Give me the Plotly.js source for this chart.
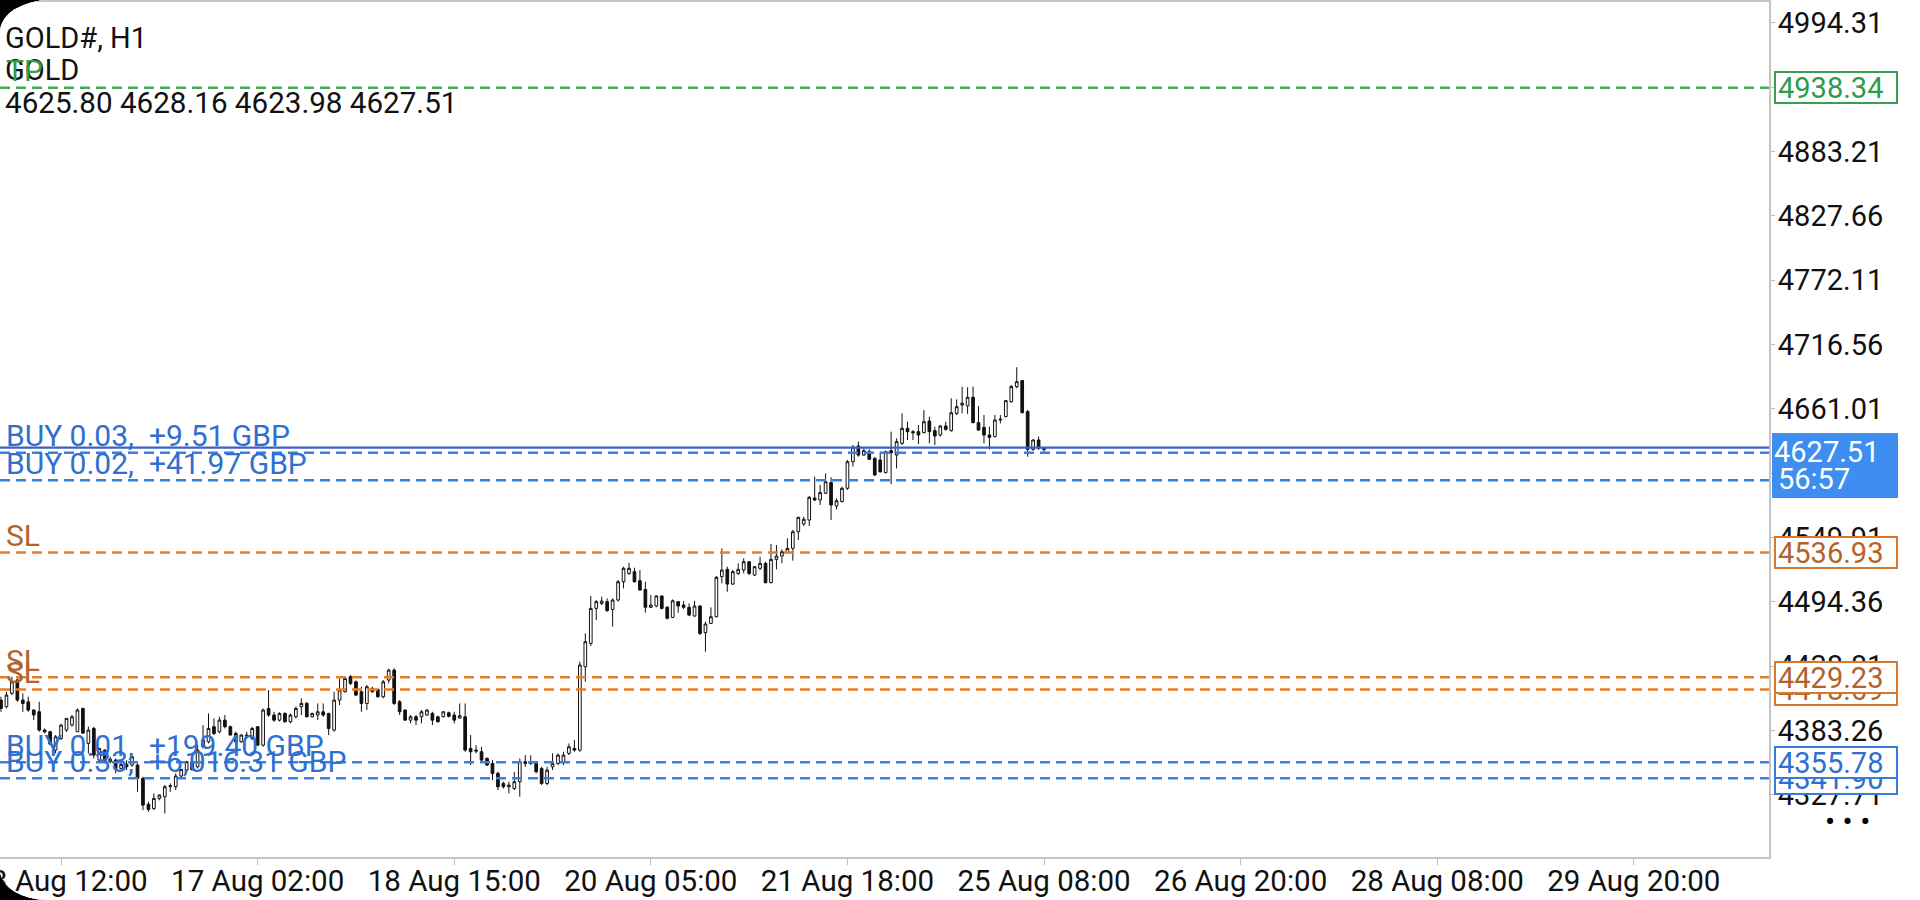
<!DOCTYPE html>
<html><head><meta charset="utf-8">
<script src="https://cdn.plot.ly/plotly-3.0.1.min.js"></script>
<style>
html,body{margin:0;padding:0;background:#000;width:1920px;height:900px;overflow:hidden}
#chart{width:1920px;height:900px;background:#fff;border-radius:50px 0 0 48px / 32px 0 0 30px;overflow:hidden}
</style></head><body><div id="chart"></div>
<script>
// ---- data (GOLD#, H1) ----
const symbolName = 'GOLD#, H1';
const symbolDesc = 'GOLD';
const timerText = '56:57';

const open = [
4409.5,4403.8,4415.3,4426.8,4409.5,4408.0,4400.9,4399.4,4383.6,4382.2,
4366.3,4376.4,4383.6,4387.9,4382.2,4402.3,4372.1,4385.0,4357.7,4366.3,
4356.3,4357.7,4350.5,4354.0,4353.4,4353.4,4341.9,4319.6,4315.9,4324.6,
4326.0,4334.7,4334.7,4343.9,4349.0,4356.3,4351.9,4369.2,4373.5,4386.5,
4382.2,4392.2,4386.5,4380.7,4373.5,4379.3,4376.4,4386.5,4370.6,4402.3,
4396.6,4392.2,4398.0,4390.8,4395.1,4403.8,4406.6,4395.1,4396.6,4399.4,
4398.0,4383.6,4409.5,4416.7,4429.7,4425.3,4416.7,4406.6,4419.6,4418.7,
4412.4,4426.8,4435.4,4408.1,4400.9,4392.2,4395.1,4395.1,4396.6,4398.0,
4395.1,4395.1,4398.5,4396.6,4394.0,4395.1,4367.8,4366.3,4364.9,4359.1,
4354.8,4346.2,4337.5,4334.7,4333.2,4339.0,4356.3,4354.8,4356.3,4350.5,
4337.5,4351.9,4354.8,4356.3,4363.5,4367.8,4366.3,4438.3,4458.5,4488.7,
4493.0,4494.5,4487.8,4495.9,4511.7,4518.9,4520.4,4512.6,4505.1,4489.6,
4490.7,4499.4,4489.6,4480.9,4494.5,4491.6,4489.6,4482.1,4490.7,4467.7,
4475.7,4481.5,4516.1,4522.4,4509.7,4518.9,4521.8,4529.0,4517.5,4523.3,
4527.6,4510.9,4531.0,4533.9,4536.8,4540.5,4554.9,4561.6,4565.0,4584.0,
4582.3,4588.1,4597.3,4577.1,4581.0,4592.4,4615.4,4628.9,4621.1,4624.0,
4618.3,4616.8,4605.9,4624.9,4621.1,4631.2,4644.2,4641.3,4641.3,4640.4,
4650.5,4642.2,4638.4,4646.2,4642.2,4657.1,4664.3,4663.5,4671.0,4649.1,
4645.0,4638.4,4637.0,4651.4,4654.3,4667.2,4680.2,4685.4,4658.6,4626.0,
4634.1,4625.80];
const high = [
4412.4,4416.7,4429.7,4428.2,4415.3,4412.4,4401.5,4408.1,4385.0,4383.0,
4379.3,4389.0,4394.0,4396.6,4402.3,4403.0,4386.5,4386.5,4368.0,4367.0,
4360.6,4359.1,4356.3,4357.7,4361.0,4354.8,4343.3,4321.7,4328.9,4328.0,
4336.1,4337.5,4346.2,4350.0,4357.0,4357.5,4370.6,4387.9,4398.0,4393.7,
4395.1,4396.6,4387.5,4382.2,4380.0,4382.2,4386.5,4387.0,4402.3,4418.2,
4399.4,4399.0,4399.0,4398.0,4403.8,4411.0,4408.0,4398.5,4406.6,4406.6,
4398.5,4416.7,4428.2,4430.0,4431.1,4426.5,4421.0,4422.5,4421.0,4419.5,
4426.8,4436.5,4436.9,4409.5,4401.5,4396.6,4396.6,4400.9,4401.5,4399.4,
4396.0,4400.0,4399.5,4399.4,4406.6,4406.6,4379.3,4370.6,4369.2,4360.0,
4357.7,4347.6,4339.0,4339.0,4347.6,4359.1,4362.0,4362.0,4356.5,4351.9,
4351.9,4363.5,4363.5,4364.9,4372.1,4375.0,4442.6,4467.1,4499.4,4495.9,
4498.8,4497.3,4497.3,4513.2,4524.7,4528.1,4523.8,4521.8,4511.7,4500.2,
4500.2,4499.8,4490.7,4496.5,4495.0,4495.0,4493.0,4495.3,4491.6,4477.2,
4489.6,4516.6,4540.5,4524.7,4521.8,4527.6,4531.9,4529.5,4525.2,4533.3,
4529.0,4544.3,4543.4,4539.7,4549.2,4556.4,4567.9,4567.9,4585.8,4602.5,
4595.3,4605.3,4601.9,4583.7,4593.8,4616.8,4629.8,4632.7,4626.9,4626.0,
4619.1,4624.0,4624.9,4641.3,4635.5,4657.1,4649.9,4642.7,4647.1,4660.0,
4654.3,4645.6,4647.1,4649.9,4670.1,4669.2,4680.2,4679.6,4680.2,4663.5,
4655.7,4645.6,4655.7,4655.7,4668.7,4681.6,4696.9,4685.9,4660.0,4634.7,
4637.0,4628.16];
const low = [
4399.4,4402.3,4413.8,4408.1,4399.4,4399.4,4392.2,4382.2,4380.7,4370.6,
4363.5,4375.0,4382.0,4386.5,4382.2,4380.2,4363.5,4359.1,4356.0,4355.0,
4354.8,4346.2,4350.0,4349.0,4352.0,4330.3,4314.5,4313.1,4314.5,4323.0,
4311.6,4330.3,4331.8,4343.0,4348.0,4348.5,4350.5,4367.8,4372.1,4379.3,
4380.7,4385.0,4379.0,4372.1,4372.5,4376.4,4375.0,4370.0,4369.2,4395.1,
4390.8,4391.0,4390.0,4389.4,4393.7,4396.6,4394.5,4394.5,4392.2,4395.1,
4379.3,4382.2,4405.2,4416.0,4422.5,4413.0,4399.4,4400.9,4416.0,4411.5,
4411.0,4423.9,4405.2,4396.6,4392.0,4389.4,4387.9,4389.4,4396.0,4387.9,
4390.0,4394.5,4394.5,4389.4,4393.5,4364.9,4353.4,4363.5,4356.3,4352.5,
4340.4,4331.8,4333.2,4328.9,4331.8,4326.0,4351.9,4353.4,4346.2,4336.1,
4336.0,4349.1,4353.4,4353.4,4362.0,4364.9,4364.9,4425.4,4456.2,4478.6,
4491.6,4485.8,4472.9,4494.5,4506.0,4517.5,4511.0,4504.0,4485.0,4489.0,
4489.6,4487.8,4479.2,4480.4,4485.0,4487.8,4482.1,4481.5,4465.7,4451.3,
4475.2,4480.9,4510.3,4503.1,4508.9,4517.5,4518.9,4517.5,4516.6,4521.8,
4510.3,4510.3,4522.4,4527.6,4536.2,4529.9,4547.8,4559.8,4559.8,4581.4,
4578.0,4587.5,4565.0,4574.2,4580.0,4591.0,4611.1,4619.7,4620.3,4616.8,
4603.0,4605.9,4605.3,4596.1,4609.6,4629.8,4634.1,4634.1,4630.6,4639.9,
4631.2,4629.8,4637.0,4642.2,4641.3,4655.7,4657.1,4656.6,4648.5,4642.2,
4631.2,4626.0,4636.4,4648.5,4653.7,4666.3,4678.7,4657.1,4619.7,4624.9,
4625.5,4623.98];
const close = [
4402.3,4413.8,4425.3,4409.5,4406.6,4400.9,4396.6,4383.6,4382.2,4371.5,
4377.8,4387.9,4393.7,4395.1,4400.9,4381.0,4383.6,4362.0,4367.8,4356.3,
4358.5,4350.5,4354.0,4352.0,4360.6,4341.9,4318.8,4315.1,4324.6,4327.5,
4334.7,4335.5,4343.9,4349.7,4356.3,4349.5,4366.3,4375.0,4385.0,4380.7,
4392.2,4386.5,4379.3,4373.5,4379.3,4378.0,4385.0,4370.6,4400.9,4396.6,
4392.2,4398.0,4390.8,4396.6,4402.3,4406.6,4395.1,4398.0,4399.4,4396.6,
4385.0,4409.5,4418.2,4428.2,4423.9,4413.8,4406.6,4421.0,4416.7,4412.4,
4425.3,4435.4,4406.6,4399.4,4392.2,4395.1,4392.2,4399.4,4400.9,4392.2,
4390.8,4399.4,4395.5,4392.2,4396.0,4366.3,4364.9,4365.5,4357.7,4353.4,
4346.2,4334.7,4334.7,4336.1,4339.0,4356.3,4354.8,4356.3,4347.6,4337.5,
4349.0,4354.8,4362.0,4362.0,4369.2,4366.3,4439.8,4459.9,4488.7,4494.5,
4495.0,4486.7,4495.9,4511.7,4523.3,4523.3,4511.7,4504.5,4489.6,4491.6,
4499.4,4488.7,4480.1,4495.3,4490.7,4489.6,4482.9,4490.7,4467.1,4475.2,
4481.5,4515.5,4521.8,4509.7,4520.4,4522.4,4529.0,4518.9,4524.7,4527.6,
4510.9,4531.0,4533.9,4537.6,4540.5,4554.9,4567.3,4565.6,4584.6,4582.3,
4588.7,4598.1,4578.0,4581.7,4592.4,4615.4,4627.8,4621.1,4624.9,4617.4,
4603.9,4606.7,4624.0,4623.2,4632.7,4644.2,4641.3,4640.4,4638.4,4649.9,
4641.3,4637.6,4646.2,4643.3,4657.7,4662.9,4665.8,4671.0,4649.1,4642.7,
4638.4,4636.4,4651.4,4652.0,4668.1,4680.2,4684.5,4657.7,4626.0,4634.1,
4626.9,4627.51];

// x axis: tick bar positions and labels
const xTickBars = [11, 47, 83, 119, 155, 191, 227, 263, 299];
const xTickText = ['13 Aug 12:00','17 Aug 02:00','18 Aug 15:00','20 Aug 05:00','21 Aug 18:00','25 Aug 08:00','26 Aug 20:00','28 Aug 08:00','29 Aug 20:00'];
// y axis ticks
const yTickText = ['4327.71','4383.26','4438.81','4494.36','4549.91','4605.46','4661.01','4716.56','4772.11','4827.66','4883.21','4938.76','4994.31'];

// trade levels
const levelText  = ['TP','BUY 0.03,  +9.51 GBP','BUY 0.02,  +41.97 GBP','SL','SL','SL','BUY 0.01,  +199.40 GBP','BUY 0.33,  +6,016.31 GBP'];
const levelPrice = [4938.34, 4623.20, 4599.30, 4536.93, 4429.23, 4418.69, 4355.78, 4341.90];
const levelKind  = ['tp','buy','buy','sl','sl','sl','buy','buy'];
const levelTag   = [true, false, false, true, true, true, true, true];

// ---- styles ----
const F = 'Roboto, "Noto Sans", "DejaVu Sans", sans-serif';
const FS = 29;
const lineCol = {tp:'#3fae55', buy:'#3a7ee0', sl:'#e2802e'};
const textCol = {tp:'#2f9a48', buy:'#2f6fd2', sl:'#b4622c'};
const tagCol  = {tp:'#3a9f50', buy:'#3a7ad8', sl:'#d8782e'};
const bidPrice = close[close.length - 1];

const bars = open.map((_, i) => i);
const trace = {
  type:'candlestick', x:bars, open:open, high:high, low:low, close:close,
  increasing:{line:{color:'#111', width:1}, fillcolor:'#ffffff'},
  decreasing:{line:{color:'#111', width:1}, fillcolor:'#111111'},
  whiskerwidth:0, hoverinfo:'skip'
};

const shapes = [];
const annotations = [];

// header
[symbolName, symbolDesc, [open, high, low, close].map(a => a[a.length-1].toFixed(2)).join(' ')].forEach((t, k) => {
  annotations.push({xref:'paper', yref:'paper', x:0, y:1, xanchor:'left', yanchor:'middle',
    xshift:3, yshift:[-36,-68,-101][k], text:t, showarrow:false,
    font:{family:F, size:[29, 29, 29.6][k], color:'#111'}});
});

levelPrice.forEach((p, k) => {
  const kd = levelKind[k];
  shapes.push({type:'line', xref:'paper', x0:0, x1:1, yref:'y', y0:p, y1:p, layer:'above',
    line:{color:lineCol[kd], width:2.5, dash:'10px,6px'}});
  annotations.push({xref:'paper', x:0, xanchor:'left', xshift:4, yref:'y', y:p, yanchor:'middle', yshift:17,
    text:levelText[k], showarrow:false, font:{family:F, size:30, color:textCol[kd]}});
});
// bid line
shapes.push({type:'line', xref:'paper', x0:0, x1:1, yref:'y', y0:bidPrice, y1:bidPrice, layer:'above',
  line:{color:'#3d5fc6', width:2.2}});

// right price tags (ascending price so that lower ones are covered)
levelPrice.map((p, k) => k).filter(k => levelTag[k])
  .sort((a, b) => levelPrice[a] - levelPrice[b])
  .forEach(k => {
    const c = tagCol[levelKind[k]];
    annotations.push({xref:'paper', x:1, xanchor:'left', xshift:5, yref:'y', y:levelPrice[k], yanchor:'middle',
      text:levelPrice[k].toFixed(2), showarrow:false, bgcolor:'#ffffff', bordercolor:c, borderwidth:2, borderpad:2,
      width:116, height:25, align:'left', font:{family:F, size:FS, color:textCol[levelKind[k]]}});
  });
// bid tag
annotations.push({xref:'paper', x:1, xanchor:'left', xshift:3, yref:'y', y:bidPrice, yanchor:'top', yshift:15,
  text:bidPrice.toFixed(2), showarrow:false, bgcolor:'#3d8ef0', bordercolor:'#3d8ef0', borderwidth:1, borderpad:1,
  width:122, height:61, align:'left', valign:'top', font:{family:F, size:FS, color:'#ffffff'}});
annotations.push({xref:'paper', x:1, xanchor:'left', xshift:7, yref:'y', y:bidPrice, yanchor:'middle', yshift:-31,
  text:timerText, showarrow:false, font:{family:F, size:FS, color:'#ffffff'}});
// menu dots
annotations.push({xref:'paper', x:1, xanchor:'center', xshift:78, yref:'paper', y:0, yanchor:'middle', yshift:36,
  text:'• • •', showarrow:false, font:{family:F, size:30, color:'#000'}});

const layout = {
  width:1920, height:900, margin:{l:0, r:151, t:2, b:43},
  paper_bgcolor:'#ffffff', plot_bgcolor:'#ffffff',
  showlegend:false, hovermode:false, dragmode:false,
  xaxis:{range:[-0.18, 323.75], tickmode:'array', tickvals:xTickBars, ticktext:xTickText,
    ticks:'outside', ticklen:6, tickwidth:1, tickcolor:'#bdbdbd', showgrid:false, zeroline:false,
    showline:true, mirror:true, linecolor:'#c4c4c4', linewidth:2,
    tickfont:{family:F, size:29.5, color:'#111'}, ticklabelstandoff:-9, rangeslider:{visible:false},
    ticklabeloverflow:'allow', fixedrange:true},
  yaxis:{side:'right', range:[4274.0, 5012.35], tickmode:'array',
    tickvals:yTickText.map(Number), ticktext:yTickText,
    ticks:'outside', ticklen:4, tickwidth:1, tickcolor:'#bdbdbd', showgrid:false, zeroline:false,
    showline:true, linecolor:'#c4c4c4', linewidth:2, ticklabelstandoff:-3,
    tickfont:{family:F, size:FS, color:'#111'}, fixedrange:true},
  shapes:shapes, annotations:annotations
};

Plotly.newPlot('chart', [trace], layout, {displayModeBar:false, staticPlot:true});
</script></body></html>
